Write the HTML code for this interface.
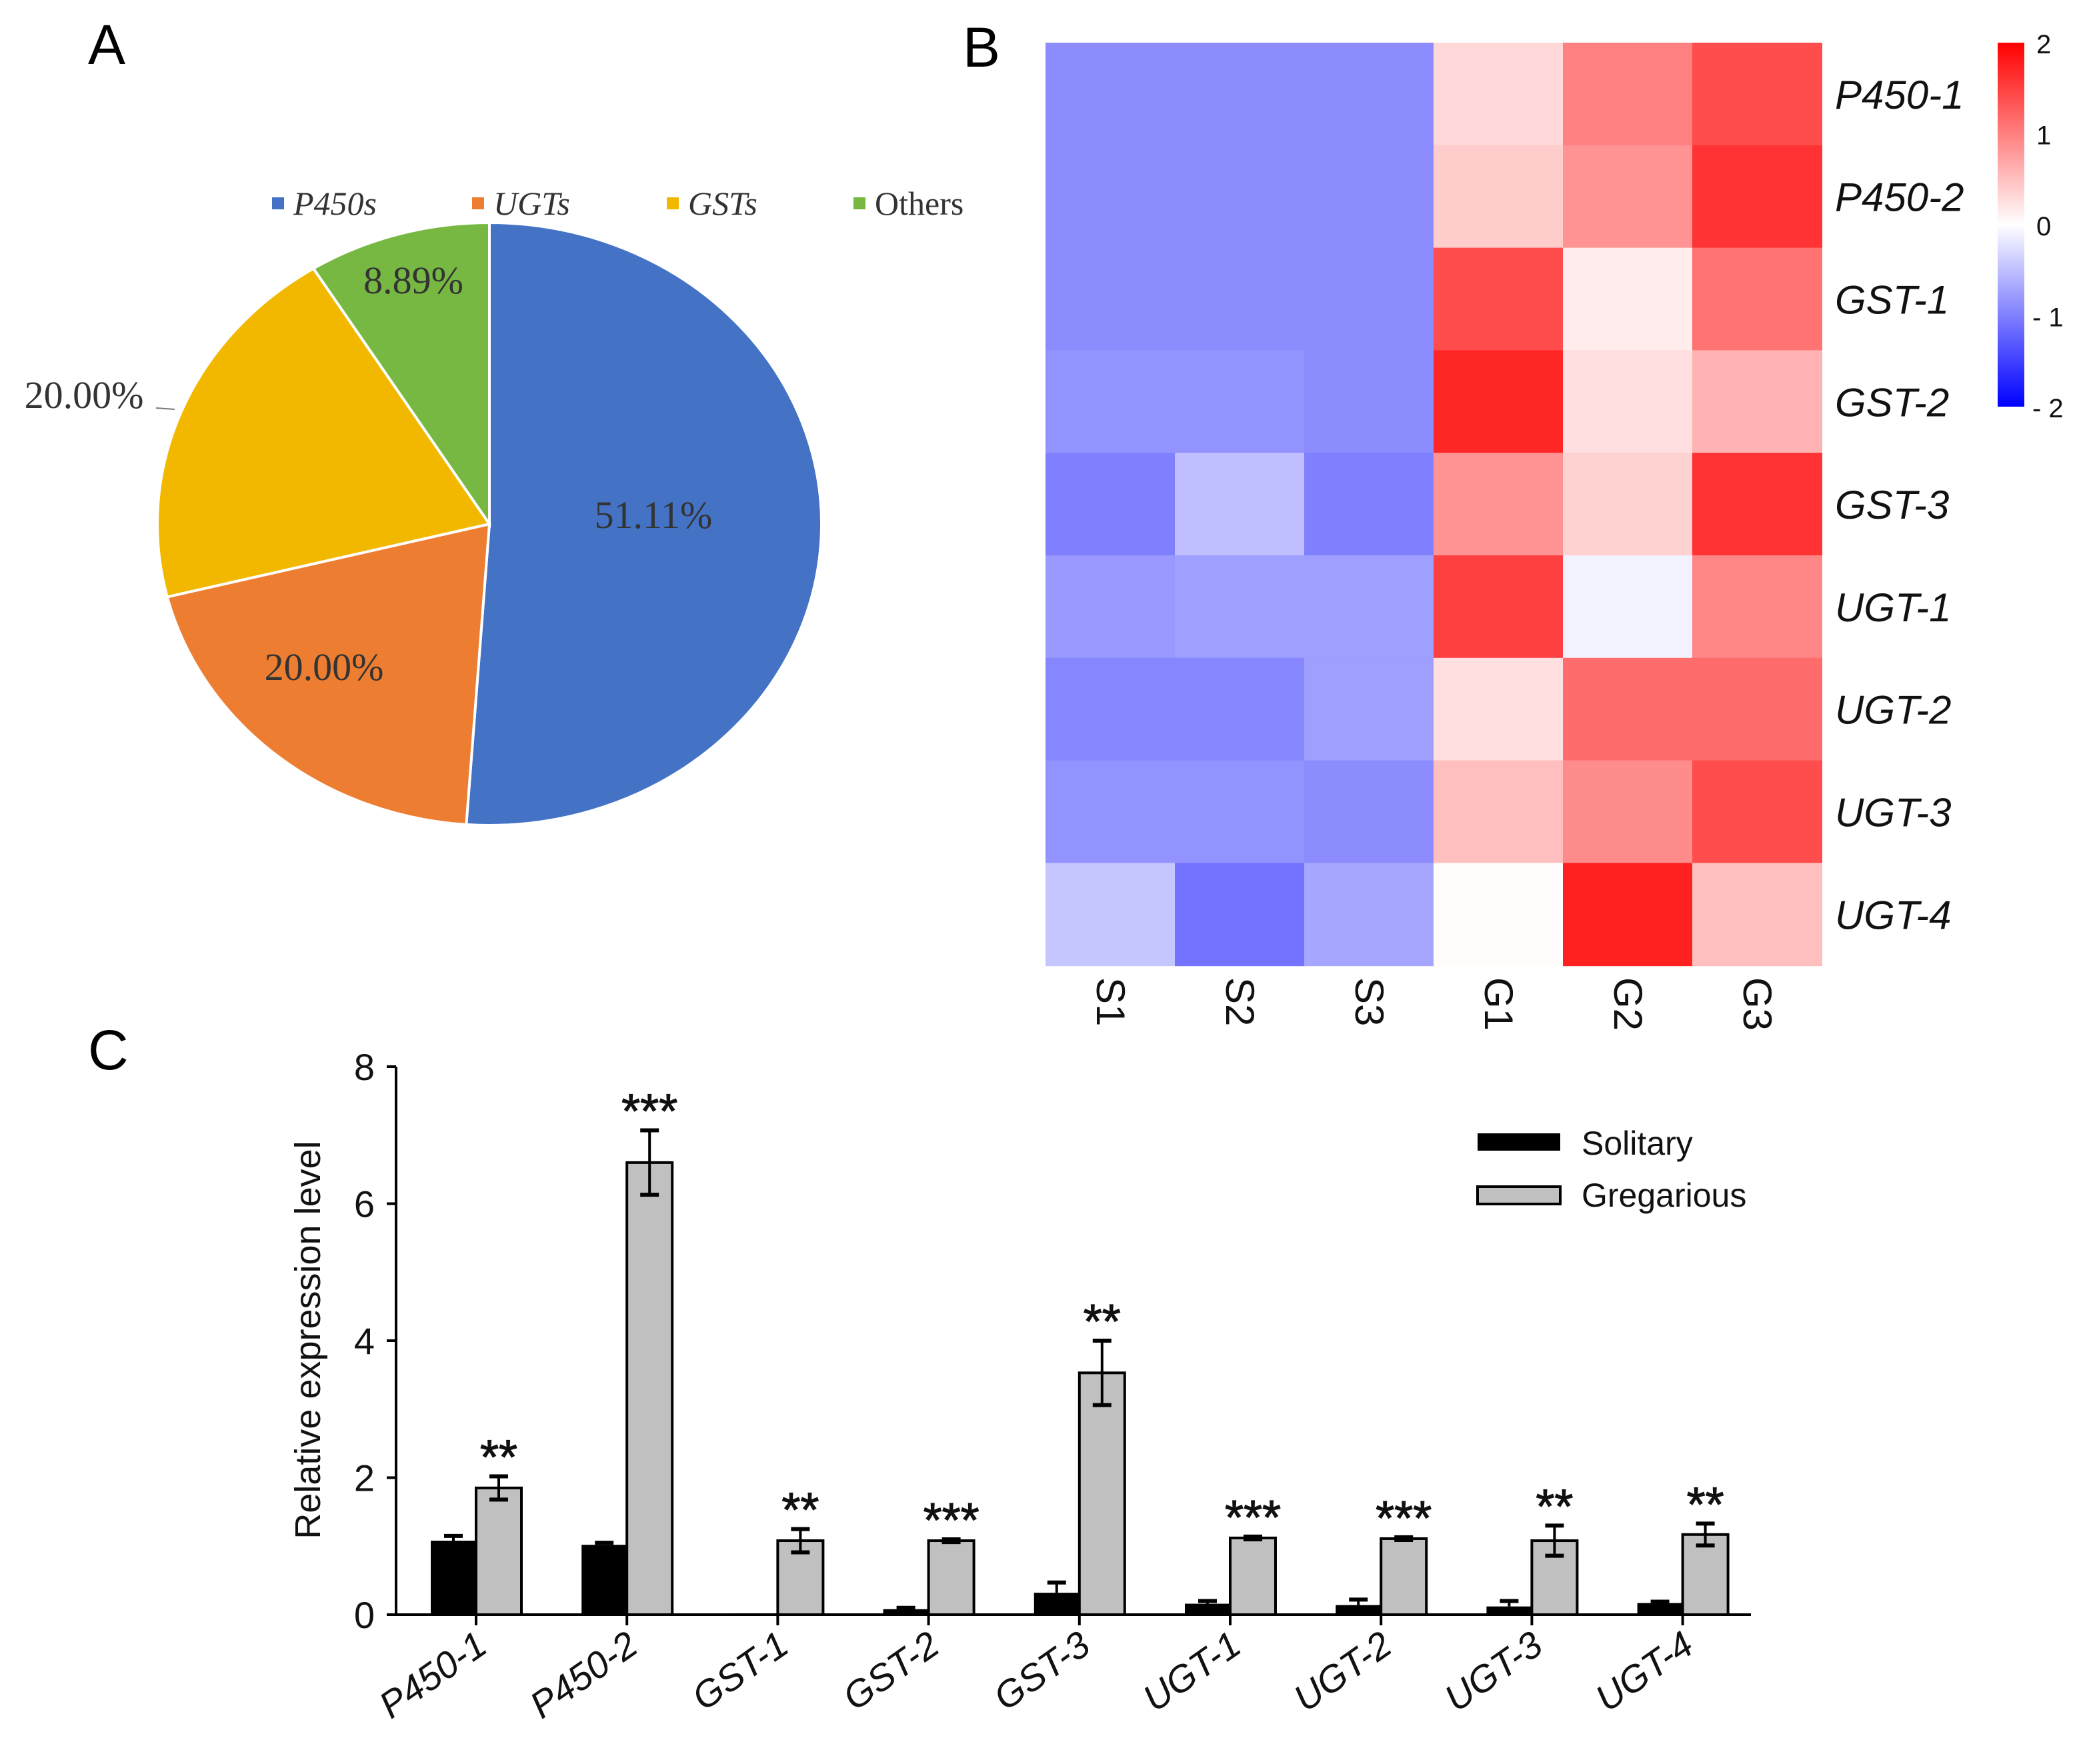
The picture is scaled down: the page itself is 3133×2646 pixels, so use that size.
<!DOCTYPE html>
<html><head><meta charset="utf-8"><style>
html,body{margin:0;padding:0;background:#fff;}
svg{display:block;}
text{font-family:"Liberation Sans",sans-serif;}
.tm{font-family:"Liberation Serif",serif;}
</style></head><body>
<svg id="fig" width="3133" height="2646" viewBox="0 0 1566.5 1323" xmlns="http://www.w3.org/2000/svg">
<rect width="1566.5" height="1323" fill="#fff"/>
<text x="66" y="48" font-size="42">A</text>
<text x="722" y="50" font-size="42">B</text>
<text x="66" y="802" font-size="42">C</text>
<g id="pie"></g>
<g id="heat"></g>
<g id="bars"></g>
</svg>
<script>
const NS="http://www.w3.org/2000/svg";
// ---- Pie data
const pieLabels=["P450s","UGTs","GSTs","Others"];
const pieValues=[51.11,20.00,20.00,8.89];
const pieColors=["#4472C4","#ED7D31","#F2B800","#77B843"];
// ---- Heatmap data
const heatRows=["P450-1","P450-2","GST-1","GST-2","GST-3","UGT-1","UGT-2","UGT-3","UGT-4"];
const heatCols=["S1","S2","S3","G1","G2","G3"];
const heatValues=[
[-0.9,-0.9,-0.9,0.3,1.0,1.4],
[-0.9,-0.9,-0.9,0.4,0.85,1.6],
[-0.9,-0.9,-0.9,1.4,0.15,1.1],
[-0.85,-0.85,-0.9,1.7,0.25,0.6],
[-1.0,-0.5,-1.0,0.85,0.35,1.6],
[-0.8,-0.75,-0.75,1.5,-0.1,0.95],
[-0.95,-0.95,-0.75,0.25,1.15,1.15],
[-0.85,-0.85,-0.9,0.5,0.9,1.4],
[-0.45,-1.1,-0.7,0.02,1.75,0.5]];
const heatTicks=[2,1,0,-1,-2];
// ---- Bar data
const barCats=["P450-1","P450-2","GST-1","GST-2","GST-3","UGT-1","UGT-2","UGT-3","UGT-4"];
const solVals=[1.08,1.02,0.02,0.08,0.32,0.16,0.14,0.12,0.17];
const solErr=[0.07,0.03,0.0,0.02,0.15,0.04,0.08,0.08,0.02];
const grgVals=[1.85,6.6,1.08,1.08,3.53,1.12,1.11,1.08,1.17];
const grgErr=[0.17,0.47,0.17,0.02,0.47,0.02,0.02,0.22,0.16];
const sigMarks=["**","***","**","***","**","***","***","**","**"];
const yTicks=[0,2,4,6,8];

function mk(tag,attrs,parent,txt){const e=document.createElementNS(NS,tag);for(const k in attrs)e.setAttribute(k,attrs[k]);if(txt!==undefined)e.textContent=txt;parent.appendChild(e);return e;}

// ---- Pie
(function(){
const g=document.getElementById('pie');
const cx=367,cy=393,rx=249,ry=226;
const total=pieValues.reduce((a,b)=>a+b,0);
let a0=0;
pieValues.forEach((v,i)=>{
  const a1=a0+v/total*2*Math.PI;
  const p=(a)=>[cx+rx*Math.sin(a),cy-ry*Math.cos(a)];
  const s=p(a0),e=p(a1);
  const large=(a1-a0)>Math.PI?1:0;
  const path=mk('path',{d:`M${cx},${cy} L${s[0]},${s[1]} A${rx},${ry} 0 ${large} 1 ${e[0]},${e[1]} Z`,fill:pieColors[i],stroke:'#fff','stroke-width':2},g);
  
  
  a0=a1;
});
const lp=[[490,396],[243,510],[63,306],[310,220]];
pieValues.forEach((v,i)=>{
  const t=mk('text',{x:lp[i][0],y:lp[i][1],'font-size':29,'text-anchor':'middle',fill:'#333',class:'tm'},g,v.toFixed(2)+'%');
  
  
});
mk('line',{x1:117,y1:306,x2:131,y2:307,stroke:'#777','stroke-width':1},g);
const lx=[204,354,500,640];
pieLabels.forEach((l,i)=>{
  const r=mk('rect',{x:lx[i],y:148,width:9,height:9,fill:pieColors[i]},g);
  
  
  const t=mk('text',{x:lx[i]+16,y:161,'font-size':25,fill:'#333',class:'tm','font-style':i<3?'italic':'normal'},g,l);
  
  
});
})();

// ---- Heatmap
(function(){
const g=document.getElementById('heat');
const x0=784,y0=32,cw=97,ch=76.9;
function col(v){v=Math.max(-2,Math.min(2,v));const t=Math.abs(v)/2;
  if(v<0){const c=Math.round(255*(1-t));return `rgb(${c},${c},255)`;}
  const c=Math.round(255*(1-t));return `rgb(255,${c},${c})`;}
heatValues.forEach((row,r)=>row.forEach((v,c)=>{
  const e=mk('rect',{x:x0+c*cw,y:y0+r*ch,width:cw+0.5,height:ch+0.5,fill:col(v)},g);
  
  
}));
heatRows.forEach((n,r)=>{
  const t=mk('text',{x:1376,y:y0+r*ch+ch/2+11,'font-size':30,'font-style':'italic',fill:'#111'},g,n);
  
  
});
heatCols.forEach((n,c)=>{
  const cxp=x0+c*cw+cw/2;
  const t=mk('text',{x:0,y:0,'font-size':30,fill:'#111',transform:`translate(${cxp-10},${733}) rotate(90)`},g,n);
  
  
});
const defs=mk('defs',{},g);
const lg=mk('linearGradient',{id:'cb',x1:0,y1:0,x2:0,y2:1},defs);
mk('stop',{offset:'0',"stop-color":'rgb(255,0,0)'},lg);
mk('stop',{offset:'0.5',"stop-color":'#fff'},lg);
mk('stop',{offset:'1',"stop-color":'rgb(0,0,255)'},lg);
const cb=mk('rect',{x:1498,y:32,width:20,height:273,fill:'url(#cb)'},g);


heatTicks.forEach(v=>{
  const y=32+(2-v)/4*273;
  const t=mk('text',{x:v<0?1524:1527,y:y+8,'font-size':20,fill:'#111'},g,v<0?'- '+Math.abs(v):String(v));
  
  
});
})();

// ---- Bars
(function(){
const g=document.getElementById('bars');
const ax=297,yb=1211,ppu=(1211-800)/8,xEnd=1313;
const Y=v=>yb-v*ppu;
const gx=i=>323+i*113.1, bw=34;
barCats.forEach((c,i)=>{
  const xs=gx(i), xg=xs+bw;
  const r1=mk('rect',{x:xs,y:Y(solVals[i]),width:bw,height:solVals[i]*ppu,fill:'#000'},g);
  
  
  if(solErr[i]>0){
    const ex=xs+bw/2;
    mk('line',{x1:ex,y1:Y(solVals[i]),x2:ex,y2:Y(solVals[i]+solErr[i]),stroke:'#000','stroke-width':2},g);
    mk('line',{x1:ex-7,y1:Y(solVals[i]+solErr[i]),x2:ex+7,y2:Y(solVals[i]+solErr[i]),stroke:'#000','stroke-width':3},g);
  }
  const r2=mk('rect',{x:xg,y:Y(grgVals[i]),width:bw,height:grgVals[i]*ppu,fill:'#c0c0c0',stroke:'#000','stroke-width':2},g);
  
  
  const ex=xg+bw/2,hi=Y(grgVals[i]+grgErr[i]),lo=Y(grgVals[i]-grgErr[i]);
  mk('line',{x1:ex,y1:hi,x2:ex,y2:lo,stroke:'#000','stroke-width':2},g);
  mk('line',{x1:ex-7,y1:hi,x2:ex+7,y2:hi,stroke:'#000','stroke-width':3},g);
  mk('line',{x1:ex-7,y1:lo,x2:ex+7,y2:lo,stroke:'#000','stroke-width':3},g);
  const s=mk('text',{x:ex,y:hi-2,'font-size':36,'text-anchor':'middle',fill:'#111','stroke':'#111','stroke-width':0.6},g,sigMarks[i]);
  
  
  mk('line',{x1:xg,y1:yb,x2:xg,y2:yb+8,stroke:'#000','stroke-width':2},g);
  const t=mk('text',{x:0,y:0,'font-size':28,'font-style':'italic','text-anchor':'end',fill:'#111',transform:`translate(${xg+10},${1238}) rotate(-35)`},g,c);
  
  
});
const xa=mk('line',{x1:ax,y1:yb,x2:xEnd,y2:yb,stroke:'#000','stroke-width':2},g);


const ya=mk('line',{x1:ax,y1:800,x2:ax,y2:yb,stroke:'#000','stroke-width':2},g);


yTicks.forEach(v=>{
  mk('line',{x1:ax-7,y1:Y(v),x2:ax,y2:Y(v),stroke:'#000','stroke-width':2},g);
  const t=mk('text',{x:ax-16,y:Y(v)+10,'font-size':28,'text-anchor':'end',fill:'#111'},g,String(v));
  
  
});
const yt=mk('text',{x:0,y:0,'font-size':27,'text-anchor':'middle',fill:'#111',transform:'translate(240,1005) rotate(-90)'},g,'Relative expression level');


const l1=mk('rect',{x:1108,y:850,width:62,height:13,fill:'#000'},g);


const t1=mk('text',{x:1186,y:866,'font-size':25,fill:'#111'},g,'Solitary');


const l2=mk('rect',{x:1108,y:890,width:62,height:13,fill:'#c0c0c0',stroke:'#000','stroke-width':2},g);


const t2=mk('text',{x:1186,y:905,'font-size':25,fill:'#111'},g,'Gregarious');


})();
</script>
</body></html>
